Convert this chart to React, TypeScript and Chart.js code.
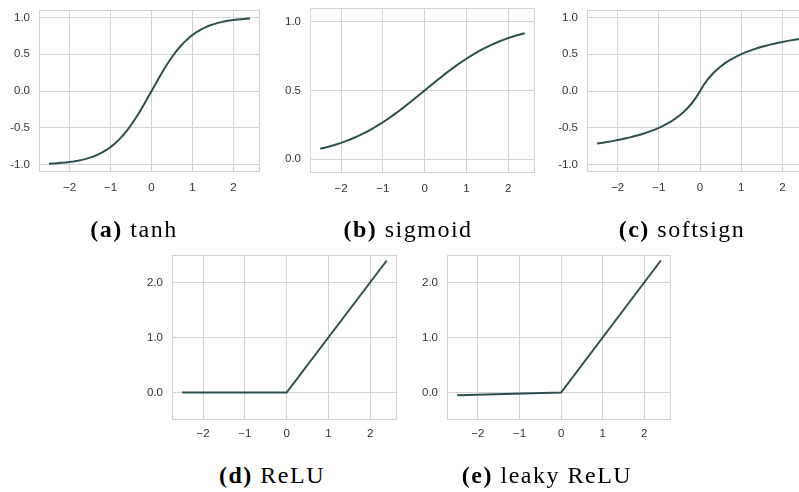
import React, { useEffect, useRef } from 'react';
import { Chart, registerables } from 'chart.js';

Chart.register(...registerables);

// ---------- data ----------
const xValues = [
  -2.5, -2.4, -2.3, -2.2, -2.1, -2.0, -1.9, -1.8, -1.7, -1.6,
  -1.5, -1.4, -1.3, -1.2, -1.1, -1.0, -0.9, -0.8, -0.7, -0.6,
  -0.5, -0.4, -0.3, -0.2, -0.1, 0.0, 0.1, 0.2, 0.3, 0.4,
  0.5, 0.6, 0.7, 0.8, 0.9, 1.0, 1.1, 1.2, 1.3, 1.4,
  1.5, 1.6, 1.7, 1.8, 1.9, 2.0, 2.1, 2.2, 2.3, 2.4,
];
const tanhValues = [
  -0.9866, -0.9837, -0.9801, -0.9757, -0.9705, -0.964, -0.9562, -0.9468, -0.9354, -0.9217,
  -0.9051, -0.8854, -0.8617, -0.8337, -0.8005, -0.7616, -0.7163, -0.664, -0.6044, -0.537,
  -0.4621, -0.3799, -0.2913, -0.1974, -0.0997, 0.0, 0.0997, 0.1974, 0.2913, 0.3799,
  0.4621, 0.537, 0.6044, 0.664, 0.7163, 0.7616, 0.8005, 0.8337, 0.8617, 0.8854,
  0.9051, 0.9217, 0.9354, 0.9468, 0.9562, 0.964, 0.9705, 0.9757, 0.9801, 0.9837,
];
const sigmoidValues = [
  0.0759, 0.0832, 0.0911, 0.0998, 0.1091, 0.1192, 0.1301, 0.1419, 0.1545, 0.168,
  0.1824, 0.1978, 0.2142, 0.2315, 0.2497, 0.2689, 0.2891, 0.31, 0.3318, 0.3543,
  0.3775, 0.4013, 0.4256, 0.4502, 0.475, 0.5, 0.525, 0.5498, 0.5744, 0.5987,
  0.6225, 0.6457, 0.6682, 0.69, 0.7109, 0.7311, 0.7503, 0.7685, 0.7858, 0.8022,
  0.8176, 0.832, 0.8455, 0.8581, 0.8699, 0.8808, 0.8909, 0.9002, 0.9089, 0.9168,
];
const softsignValues = [
  -0.7143, -0.7059, -0.697, -0.6875, -0.6774, -0.6667, -0.6552, -0.6429, -0.6296, -0.6154,
  -0.6, -0.5833, -0.5652, -0.5455, -0.5238, -0.5, -0.4737, -0.4444, -0.4118, -0.375,
  -0.3333, -0.2857, -0.2308, -0.1667, -0.0909, 0.0, 0.0909, 0.1667, 0.2308, 0.2857,
  0.3333, 0.375, 0.4118, 0.4444, 0.4737, 0.5, 0.5238, 0.5455, 0.5652, 0.5833,
  0.6, 0.6154, 0.6296, 0.6429, 0.6552, 0.6667, 0.6774, 0.6875, 0.697, 0.7059,
];
const reluX = [-2.5, 0, 2.4];
const reluValues = [0, 0, 2.4];
const leakyX = [-2.5, 0, 2.4];
const leakyValues = [-0.05, 0, 2.4];

const xTicks = [-2, -1, 0, 1, 2];
const yTicksWide = [-1, -0.5, 0, 0.5, 1];
const yTicksSigmoid = [0, 0.5, 1];
const yTicksRelu = [0, 1, 2];

const captionLetters = ['(a)', '(b)', '(c)', '(d)', '(e)'];
const captionNames = ['tanh', 'sigmoid', 'softsign', 'ReLU', 'leaky ReLU'];

// ---------- layout ----------
const X_MIN = -2.745;
const X_MAX = 2.645;
const YW = 45;
const PT = 24;
const PR = 24;
const XH = 30;

const LINE_COLOR = '#2f4f4f';
const GRID_COLOR = '#d3d3d3';
const TICK_COLOR = '#333333';

type PanelSpec = {
  box: [number, number, number, number]; // left, right, top, bottom
  yMin: number;
  yMax: number;
  yTicks: number[];
  xs: number[];
  ys: number[];
  xPad: number;
};

const panels: PanelSpec[] = [
  { box: [39, 260, 10, 172], yMin: -1.1, yMax: 1.1, yTicks: yTicksWide, xs: xValues, ys: tanhValues, xPad: 9 },
  { box: [310, 535, 8, 173], yMin: -0.1, yMax: 1.1, yTicks: yTicksSigmoid, xs: xValues, ys: sigmoidValues, xPad: 9 },
  { box: [587, 809, 10, 172], yMin: -1.1, yMax: 1.1, yTicks: yTicksWide, xs: xValues, ys: softsignValues, xPad: 9 },
  { box: [172, 397, 255, 420], yMin: -0.5, yMax: 2.5, yTicks: yTicksRelu, xs: reluX, ys: reluValues, xPad: 7 },
  { box: [447, 671, 255, 420], yMin: -0.5, yMax: 2.5, yTicks: yTicksRelu, xs: leakyX, ys: leakyValues, xPad: 7 },
];

const captionPos: [number, number][] = [
  [134, 229],
  [408, 229],
  [682, 229],
  [272, 475],
  [547, 475],
];

const framePlugin = {
  id: 'frame',
  afterDraw(chart: any) {
    const { ctx, chartArea } = chart;
    ctx.save();
    ctx.strokeStyle = GRID_COLOR;
    ctx.lineWidth = 1;
    ctx.strokeRect(
      Math.round(chartArea.left) + 0.5,
      Math.round(chartArea.top) + 0.5,
      Math.round(chartArea.right - chartArea.left) - 1,
      Math.round(chartArea.bottom - chartArea.top) - 1
    );
    ctx.restore();
  },
};

function Panel({ spec }: { spec: PanelSpec }) {
  const ref = useRef<HTMLCanvasElement | null>(null);
  const [l, r, t, b] = spec.box;
  const width = YW + (r - l) + PR;
  const height = PT + (b - t) + XH;

  useEffect(() => {
    if (!ref.current) return;
    const chart = new Chart(ref.current, {
      type: 'line',
      data: {
        datasets: [
          {
            data: spec.xs.map((x, i) => ({ x, y: spec.ys[i] })),
            borderColor: LINE_COLOR,
            borderWidth: 2,
            pointRadius: 0,
            fill: false,
            tension: 0,
          },
        ],
      },
      options: {
        animation: false,
        responsive: false,
        devicePixelRatio: 1,
        layout: { padding: { left: 0, top: PT, right: PR, bottom: 0 } },
        plugins: { legend: { display: false }, tooltip: { enabled: false } },
        scales: {
          x: {
            type: 'linear',
            min: X_MIN,
            max: X_MAX,
            afterBuildTicks: (axis: any) => {
              axis.ticks = xTicks.map((v) => ({ value: v }));
            },
            afterFit: (scale: any) => {
              scale.height = XH;
            },
            grid: { color: GRID_COLOR, lineWidth: 1, drawTicks: false },
            border: { display: false },
            ticks: {
              padding: spec.xPad,
              color: TICK_COLOR,
              font: { family: 'Liberation Sans', size: 11.5 },
              maxRotation: 0,
              callback: (v: any) => (Number(v) < 0 ? '\u2212' + Math.abs(Number(v)) : String(v)),
            },
          },
          y: {
            type: 'linear',
            min: spec.yMin,
            max: spec.yMax,
            afterBuildTicks: (axis: any) => {
              axis.ticks = spec.yTicks.map((v) => ({ value: v }));
            },
            afterFit: (scale: any) => {
              scale.width = YW;
            },
            grid: { color: GRID_COLOR, lineWidth: 1, drawTicks: false },
            border: { display: false },
            ticks: {
              padding: 9,
              color: TICK_COLOR,
              font: { family: 'Liberation Sans', size: 11.5 },
              callback: (v: any) => Number(v).toFixed(1),
            },
          },
        },
      },
      plugins: [framePlugin],
    });
    return () => chart.destroy();
  }, []);

  return (
    <div style={{ position: 'absolute', left: l - YW, top: t - PT, width, height }}>
      <canvas ref={ref} width={width} height={height} style={{ width, height, display: 'block' }} />
    </div>
  );
}

export default function App() {
  return (
    <div
      style={{
        position: 'absolute',
        left: 0,
        top: 0,
        width: 799,
        height: 492,
        overflow: 'hidden',
        background: '#ffffff',
      }}
    >
      {panels.map((p, i) => (
        <Panel key={i} spec={p} />
      ))}
      {captionPos.map(([cx, cy], i) => (
        <div
          key={'c' + i}
          style={{
            position: 'absolute',
            left: cx,
            top: cy,
            transform: 'translate(-50%, -50%)',
            whiteSpace: 'nowrap',
            fontFamily: '"Liberation Serif", serif',
            fontSize: 24,
            letterSpacing: '1.5px',
            color: '#000',
            lineHeight: 1,
          }}
        >
          <span style={{ fontWeight: 'bold' }}>{captionLetters[i]}</span> {captionNames[i]}
        </div>
      ))}
    </div>
  );
}
